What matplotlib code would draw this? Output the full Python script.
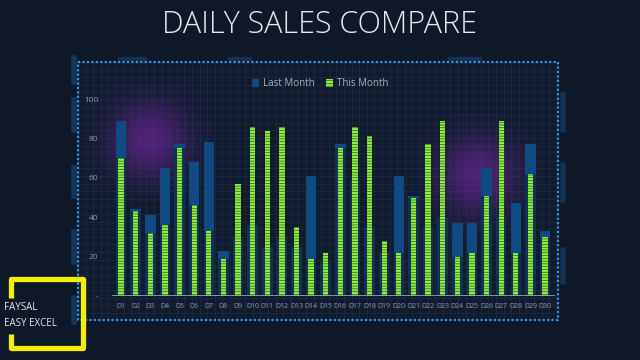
import numpy as np
import matplotlib.pyplot as plt
from matplotlib.patches import Patch, Rectangle

plt.rcParams['font.family'] = ['Open Sans', 'DejaVu Sans']
plt.rcParams['hatch.linewidth'] = 1.6

# Данные
days = ['D%d' % i for i in range(1, 31)]
last_month = [89, 44, 41, 65, 77, 68, 78, 23, 30, 36, 25, 30, 25, 61, 18,
              77, 59, 35, 22, 61, 51, 35, 40, 37, 37, 65, 40, 47, 77, 33]
this_month = [70, 43, 32, 36, 75, 46, 33, 19, 57, 86, 84, 86, 35, 19, 22,
              75, 86, 81, 28, 22, 50, 77, 89, 20, 22, 51, 89, 22, 62, 30]
y_ticks = [0, 20, 40, 60, 80, 100]
y_labels = ['-', '20', '40', '60', '80', '100']

W, H = 640, 360
bg = '#0f1828'
blue = '#104a82'
green = '#8ef040'

fig = plt.figure(figsize=(6.4, 3.6), dpi=100, facecolor=bg)

# Фон: сетка, свечение, рамка (в пикселях)
back = fig.add_axes([0, 0, 1, 1])
back.set_xlim(0, W)
back.set_ylim(H, 0)
back.axis('off')
fx0, fx1, fy0, fy1 = 78, 558, 62, 320
back.add_patch(Rectangle((fx0, fy0), fx1 - fx0, fy1 - fy0, color='#111b2e', zorder=0))
for gx in np.arange(fx0, fx1, 7.6):
    back.plot([gx, gx], [fy0, fy1], color='#1b2942', lw=0.6, zorder=1)
for gy in np.arange(fy0, fy1, 7.6):
    back.plot([fx0, fx1], [gy, gy], color='#1b2942', lw=0.6, zorder=1)

# Фиолетовое свечение
gx, gy = np.meshgrid(np.linspace(-1, 1, 200), np.linspace(-1, 1, 200))
glow = np.zeros((200, 200, 4))
glow[..., 0], glow[..., 1], glow[..., 2] = 0.48, 0.16, 0.66
glow[..., 3] = 0.6 * np.exp(-(gx ** 2 + gy ** 2) * 2.6)
for cx, cy in [(150, 140), (478, 175)]:
    back.imshow(glow, extent=(cx - 62, cx + 62, cy + 62, cy - 62), zorder=2)
back.set_xlim(0, W)
back.set_ylim(H, 0)

back.plot([fx0, fx1, fx1, fx0, fx0], [fy0, fy0, fy1, fy1, fy0],
          color='#3b93e0', lw=1.6, ls=(0, (1, 1)), zorder=3)
# декоративные синие полосы по краям рамки
for y0, y1 in [(58, 82), (100, 130), (168, 196), (232, 262), (298, 322)]:
    back.plot([74, 74], [y0, y1], color='#1f6fbf', lw=4, alpha=0.35, zorder=3)
for y0, y1 in [(95, 130), (165, 200), (250, 282)]:
    back.plot([563, 563], [y0, y1], color='#1f6fbf', lw=4, alpha=0.3, zorder=3)
for x0, x1 in [(120, 145), (230, 250), (450, 480)]:
    back.plot([x0, x1], [59, 59], color='#1f6fbf', lw=3, alpha=0.3, zorder=3)

# Основной график
ax = fig.add_axes([112 / W, 64 / H, 443 / W, 226.5 / H])
ax.set_facecolor('none')
x = np.arange(len(days))
ax.bar(x, last_month, width=0.72, color=blue, label='Last Month', zorder=2)
# скрытая часть прошлого месяца (под зелёным столбцом) темнее
ax.bar(x, np.minimum(last_month, this_month), width=0.72, color='#0f3357', zorder=2.5)
ax.bar(x, this_month, width=0.36, color='#1a3312', edgecolor=green,
       hatch='------', linewidth=0, label='This Month', zorder=3)
ax.axhline(0, color='#9aa3ad', lw=1.2, zorder=4)
ax.set_xlim(-0.62, 29.68)
ax.set_ylim(0, 115)
ax.set_xticks(x)
ax.set_xticklabels(days, fontsize=5, color='#8f98a3')
ax.set_yticks(y_ticks)
ax.set_yticklabels(y_labels, fontsize=6, color='#8f98a3')
ax.tick_params(length=0, pad=5)
ax.tick_params(axis='y', pad=10)
for s in ax.spines.values():
    s.set_visible(False)

handles = [Patch(facecolor=blue, label='Last Month'),
           Patch(facecolor='#1a3312', edgecolor=green, hatch='------',
                 linewidth=0, label='This Month')]
leg = ax.legend(handles=handles, loc='upper center', bbox_to_anchor=(0.47, 1.0),
                ncol=2, frameon=False, fontsize=7, handlelength=0.7,
                handleheight=0.9, columnspacing=1.2, handletextpad=0.4)
for t in leg.get_texts():
    t.set_color('#aab2bc')

fig.text(0.5, 0.93, 'DAILY SALES COMPARE', ha='center', va='center',
         fontsize=22, color='#e6eaf0', fontweight='light')

# Водяной знак
top = fig.add_axes([0, 0, 1, 1])
top.set_xlim(0, W)
top.set_ylim(H, 0)
top.axis('off')
top.plot([11, 11, 83, 83, 11, 11], [298, 279, 279, 348, 348, 334],
         color='#f2ee0a', lw=3.8, solid_capstyle='butt')
top.text(4, 308, 'FAYSAL', fontsize=7, color='#e8e8e8', va='center')
top.text(4, 323, 'EASY EXCEL', fontsize=7, color='#e8e8e8', va='center')

fig.savefig('out.png', dpi=100, facecolor=bg)
